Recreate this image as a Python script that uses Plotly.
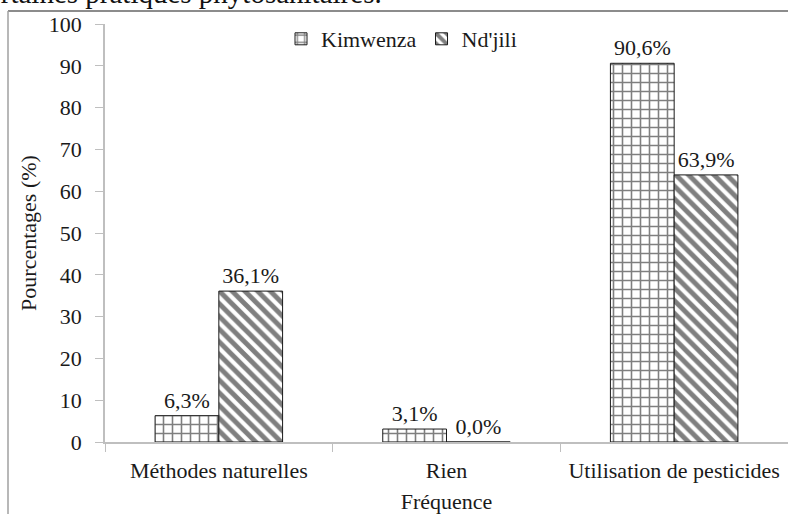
import plotly.graph_objects as go

categories = ["Méthodes naturelles", "Rien", "Utilisation de pesticides"]
kimwenza = [6.3, 3.1, 90.6]
ndjili = [36.1, 0.0, 63.9]
series_names = ["Kimwenza", "Nd'jili"]
y_ticks = list(range(0, 101, 10))

FONT = "Liberation Serif"
FS = 22
INK = "#1a1a1a"
W, H = 788, 514
ML, MR, MT, MB = 105, 0, 24, 72
PW, PH = W - ML - MR, H - MT - MB


def px_x(x):
    # pixel -> paper x
    return (x - ML) / PW


def px_y(y):
    # pixel -> paper y
    return (H - MB - y) / PH


def fmt(vals):
    return [f"{v:.1f}%".replace(".", ",") for v in vals]


fig = go.Figure()
fig.add_trace(go.Bar(
    x=categories, y=kimwenza, name=series_names[0],
    text=fmt(kimwenza), textposition="outside", cliponaxis=False,
    textfont=dict(family=FONT, size=FS, color=INK),
    marker=dict(color="white", line=dict(color=INK, width=1),
                pattern=dict(shape="+", fgcolor="#000", bgcolor="white",
                             size=9, solidity=0.32)),
))
fig.add_trace(go.Bar(
    x=categories, y=ndjili, name=series_names[1],
    text=fmt(ndjili), textposition="outside", cliponaxis=False,
    textfont=dict(family=FONT, size=FS, color=INK),
    marker=dict(color="white", line=dict(color=INK, width=1),
                pattern=dict(shape="\\", fgcolor="#000", bgcolor="white",
                             size=9, solidity=0.55)),
))

fig.update_layout(
    width=W, height=H,
    margin=dict(l=ML, r=MR, t=MT, b=MB, autoexpand=False),
    paper_bgcolor="white", plot_bgcolor="white",
    font=dict(family=FONT, size=FS, color=INK),
    barmode="group", bargap=0.44, bargroupgap=0,
    showlegend=True,
    legend=dict(orientation="h", x=px_x(281), y=px_y(39),
                xanchor="left", yanchor="middle",
                font=dict(family=FONT, size=22, color=INK),
                itemwidth=30, tracegroupgap=0, bgcolor="rgba(0,0,0,0)"),
    xaxis=dict(
        automargin=False,
        showline=True, linecolor="#bfbfbf", linewidth=1.5,
        ticks="outside", tickson="boundaries", ticklen=8, tickcolor="#bfbfbf",
        ticklabelstandoff=8,
        showgrid=False, tickfont=dict(family=FONT, size=FS, color=INK),
        title=dict(text="Fréquence", font=dict(family=FONT, size=FS, color=INK), standoff=13),
    ),
    yaxis=dict(
        automargin=False,
        range=[0, 100], tickvals=y_ticks, showgrid=False, zeroline=False,
        showline=True, linecolor="#bfbfbf", linewidth=1.5,
        ticks="outside", ticklen=8, tickcolor="#bfbfbf",
        ticklabelstandoff=9,
        tickfont=dict(family=FONT, size=FS, color=INK),
        title=dict(text="Pourcentages (%)", font=dict(family=FONT, size=FS, color=INK), standoff=6),
    ),
)

# page frame (left + top border) and clipped caption line from the source document
fig.add_shape(type="line", xref="paper", yref="paper", layer="above",
              x0=px_x(8), x1=px_x(W + 20), y0=px_y(11), y1=px_y(11),
              line=dict(color="#8c8c8c", width=2))
fig.add_shape(type="line", xref="paper", yref="paper", layer="above",
              x0=px_x(8), x1=px_x(8), y0=px_y(11), y1=px_y(H + 20),
              line=dict(color="#a0a0a0", width=1.5))
fig.add_annotation(text="certaines pratiques phytosanitaires.", xref="paper", yref="paper",
                   x=px_x(384), y=px_y(-7), xanchor="right", yanchor="middle",
                   showarrow=False, font=dict(family=FONT, size=29, color="#111"))

# drop the browser's default 8px body margin so the figure sits at the page corner
fig.write_html("out.html", config={"displayModeBar": False},
               post_script="document.body.style.margin='0';")
